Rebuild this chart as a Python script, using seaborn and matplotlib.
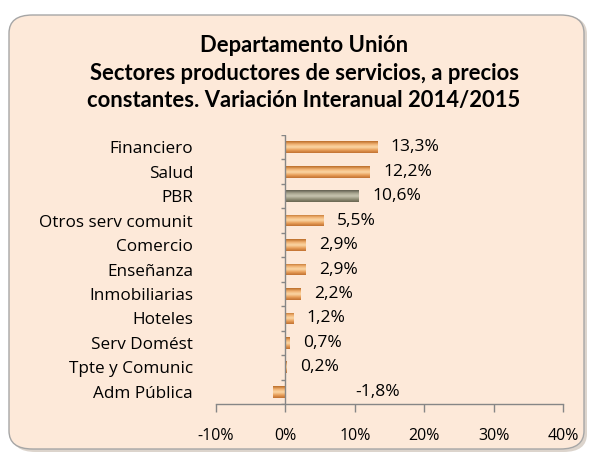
import numpy as np
import pandas as pd
import matplotlib
matplotlib.use("Agg")
import matplotlib.pyplot as plt
import seaborn as sns
from matplotlib.patches import FancyBboxPatch
from matplotlib.colors import LinearSegmentedColormap

categories = ["Financiero", "Salud", "PBR", "Otros serv comunit", "Comercio", "Enseñanza",
              "Inmobiliarias", "Hoteles", "Serv Domést", "Tpte y Comunic", "Adm Pública"]
values = [13.3, 12.2, 10.6, 5.5, 2.9, 2.9, 2.2, 1.2, 0.7, 0.2, -1.8]
labels = ["13,3%", "12,2%", "10,6%", "5,5%", "2,9%", "2,9%", "2,2%", "1,2%", "0,7%", "0,2%", "-1,8%"]
xticks = [-10, 0, 10, 20, 30, 40]
xticklabels = ["-10%", "0%", "10%", "20%", "30%", "40%"]
title_lines = ["Departamento Unión",
               "Sectores productores de servicios, a precios",
               "constantes. Variación Interanual 2014/2015"]

sns.set_theme(style="white")
plt.rcParams['font.family'] = ['Open Sans', 'DejaVu Sans']

df = pd.DataFrame({"cat": categories, "val": values})

fig = plt.figure(figsize=(5.89, 4.53), dpi=100)
fig.patch.set_facecolor("white")

# background rounded panel
W, H = 589, 453
shadow = FancyBboxPatch((12 / W, 1 - 452 / H), 575 / W, 436 / H,
                        boxstyle="round,pad=0,rounding_size=0.04",
                        transform=fig.transFigure, facecolor="#dcd4cc", edgecolor="none", zorder=-3)
fig.patches.append(shadow)
panel = FancyBboxPatch((9 / W, 1 - 449 / H), 575 / W, 434 / H,
                       boxstyle="round,pad=0,rounding_size=0.04",
                       transform=fig.transFigure, facecolor="#fde9d9", edgecolor="#a6a6a6",
                       linewidth=1.0, zorder=-2)
fig.patches.append(panel)

ax = fig.add_axes([216 / W, 1 - 404 / H, (563 - 216) / W, (404 - 135) / H])
ax.set_facecolor("none")
ax.set_zorder(1)

palette = ["#8c8974" if c == "PBR" else "#e39849" for c in categories]
sns.barplot(data=df, x="val", y="cat", hue="cat", palette=palette, legend=False,
            width=0.48, ax=ax, orient="h", saturation=1, edgecolor="none")

# gradient shading on bars
orange_cmap = LinearSegmentedColormap.from_list("o", ["#b86a25", "#f0b070", "#fbd9a8", "#e9a05a", "#c07030"])
gray_cmap = LinearSegmentedColormap.from_list("g", ["#5e5b4c", "#a6a38e", "#c9c6b2", "#949179", "#66634f"])
for patch, cat in zip(ax.patches, categories):
    x0, y0 = patch.get_x(), patch.get_y()
    w, h = patch.get_width(), patch.get_height()
    cmap = gray_cmap if cat == "PBR" else orange_cmap
    grad = np.linspace(0, 1, 64).reshape(-1, 1)
    im = ax.imshow(grad, extent=[min(x0, x0 + w), max(x0, x0 + w), y0 + h, y0],
                   aspect="auto", cmap=cmap, zorder=patch.get_zorder() + 0.1, interpolation="bicubic")
    im.set_clip_path(patch)

ax.set_xlim(-10, 40)
ax.set_ylim(len(categories) - 0.5, -0.5)
ax.set_xticks(xticks)
ax.set_xticklabels(xticklabels, fontsize=11.5, color="#000000")
ax.tick_params(axis="x", direction="out", length=6, width=1, color="#868686", pad=11, bottom=True)
ax.set_yticks(range(len(categories)))
ax.set_yticklabels(categories, fontsize=12.3, color="#000000")
ax.tick_params(axis="y", length=0, pad=16.5)
ax.set_xlabel("")
ax.set_ylabel("")
for s in ["top", "right", "left"]:
    ax.spines[s].set_visible(False)
ax.spines["bottom"].set_color("#868686")
ax.spines["bottom"].set_linewidth(1)

# vertical axis at 0 with boundary ticks
ax.axvline(0, color="#868686", linewidth=1, zorder=5)
bounds = np.arange(-0.5, len(categories), 1.0)
ax.hlines(bounds, -0.6, 0, color="#868686", linewidth=1, zorder=5)

for i, (v, lab) in enumerate(zip(values, labels)):
    xpos = max(v, 0) + 1.9
    if v < 0:
        xpos = 10.0
    ax.text(xpos, i, lab, va="center", ha="left", fontsize=12.5, color="#000000")

for ypix, line in zip([46, 74, 101], title_lines):
    fig.text(304 / W, 1 - ypix / H, line, ha="center", va="center",
             fontsize=15.8, fontweight="bold", color="#000000", family=["Lato", "DejaVu Sans"])

fig.savefig("out.png", dpi=100)
